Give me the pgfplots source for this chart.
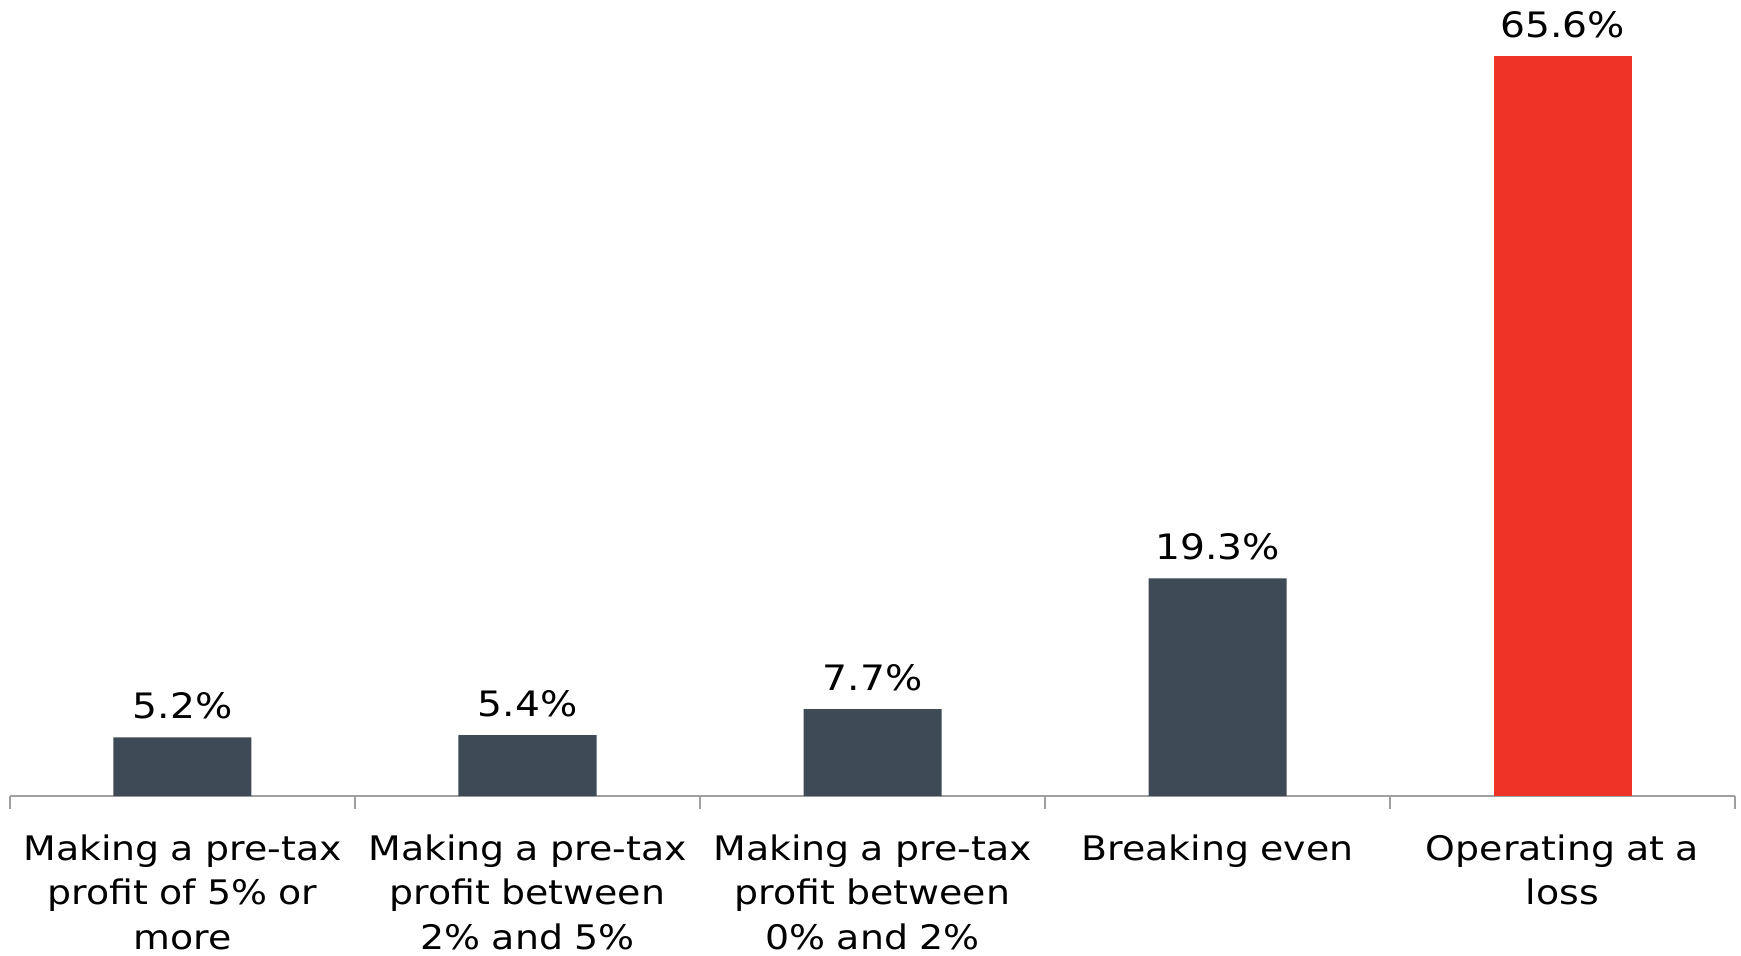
\documentclass[border=0pt]{standalone}
\usepackage{pgfplots}
\pgfplotsset{compat=1.18}
\usepackage{fontspec}
\setmainfont{DejaVu Sans}[FakeStretch=1.12]
\definecolor{barDark}{HTML}{3E4A56}
\definecolor{barRed}{HTML}{EE3427}
\definecolor{axGray}{HTML}{A0A0A0}
\begin{document}
\begin{tikzpicture}
\useasboundingbox (-5pt,-79.5pt) rectangle (865.5pt,398pt);
\begin{axis}[
  scale only axis,
  width=862.5pt, height=398pt,
  xmin=-0.5, xmax=4.5, ymin=0, ymax=70.6,
  axis x line=bottom, axis y line=none,
  axis line style={draw=axGray, line width=1pt, -},
  ybar, bar width=0.4, bar shift=0pt,
  xtick={0,1,2,3,4},
  xticklabels={{Making a pre-tax\\profit of 5\% or\\more},{Making a pre-tax\\profit between\\2\% and 5\%},{Making a pre-tax\\profit between\\0\% and 2\%},{Breaking even},{Operating at a\\loss}},
  major tick length=0pt,
  extra x ticks={-0.5,0.5,1.5,2.5,3.5,4.5},
  extra x tick labels={},
  extra x tick style={major tick length=6.5pt, tick style={draw=axGray, line width=1pt}, tick align=outside},
  xticklabel style={font=\fontsize{16.9}{22.2}\selectfont, align=center, text width=170pt, yshift=-15.8pt},
  /pgf/number format/assume math mode=true,
  nodes near coords={\pgfmathprintnumber[fixed,fixed zerofill,precision=1]{\pgfplotspointmeta}\%},
  every node near coord/.append style={font=\fontsize{17.5}{21.5}\selectfont, text=black, anchor=base, inner sep=0pt, yshift=9.5pt},
  clip=false,
]
\addplot[fill=barDark, draw=none] coordinates {(0,5.2) (1,5.4) (2,7.7) (3,19.3)};
\addplot[fill=barRed, draw=none] coordinates {(4,65.6)};
\end{axis}
\end{tikzpicture}
\end{document}
